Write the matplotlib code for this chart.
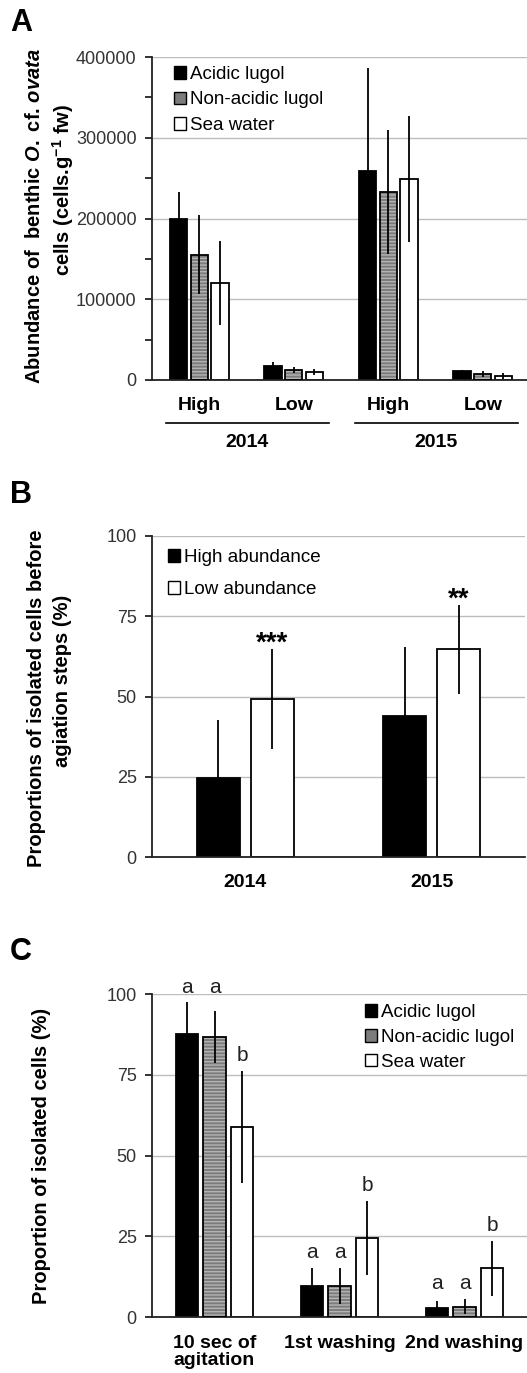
import numpy as np
import matplotlib
matplotlib.use("Agg")
import matplotlib.pyplot as plt
from matplotlib.patches import Patch
from matplotlib.transforms import blended_transform_factory

plt.rcParams['font.family'] = ['Liberation Sans', 'DejaVu Sans']
plt.rcParams['mathtext.fontset'] = 'custom'
plt.rcParams['mathtext.rm'] = 'Liberation Sans:bold'
plt.rcParams['mathtext.it'] = 'Liberation Sans:italic:bold'
plt.rcParams['mathtext.bf'] = 'Liberation Sans:bold'
plt.rcParams['hatch.linewidth'] = 1.0

# ---------------- data ----------------
# Panel A: abundance of benthic cells per fixation treatment
a_categories = ['High', 'Low', 'High', 'Low']
a_years = ['2014', '2015']
a_series = ['Acidic lugol', 'Non-acidic lugol', 'Sea water']
a_acidic = [200000, 17000, 259000, 11000]
a_acidic_err = [33000, 5700, 127000, 1500]
a_nonacidic = [155000, 12400, 233000, 7400]
a_nonacidic_err = [49000, 4100, 77000, 3300]
a_seawater = [120000, 10000, 249000, 5000]
a_seawater_err = [52000, 3600, 78000, 3300]

# Panel B: isolated cells before agitation
b_years = ['2014', '2015']
b_series = ['High abundance', 'Low abundance']
b_high = [24.8, 44.1]
b_high_err = [18.0, 21.5]
b_low = [49.2, 64.7]
b_low_err = [15.6, 13.8]
b_signif = ['***', '**']

# Panel C: isolated cells per step
c_steps = ['10 sec of\nagitation', '1st washing', '2nd washing']
c_series = ['Acidic lugol', 'Non-acidic lugol', 'Sea water']
c_acidic = [87.7, 9.6, 2.7]
c_acidic_err = [9.8, 5.7, 2.4]
c_nonacidic = [86.7, 9.6, 3.2]
c_nonacidic_err = [8.1, 5.5, 2.4]
c_seawater = [58.9, 24.4, 15.1]
c_seawater_err = [17.3, 11.5, 8.5]
c_letters = [['a', 'a', 'b'], ['a', 'a', 'b'], ['a', 'a', 'b']]

# ---------------- styling ----------------
W, H = 527, 1373
DPI = 100
TICK_COLOR = '#333333'
SPINE_COLOR = '#222222'
GRID_COLOR = '#bdbdbd'
GRAY_FACE = '#7c7c7c'
GRAY_STRIPE = '#b4b4b4'
LW = 1.3

fig = plt.figure(figsize=(W / DPI, H / DPI), dpi=DPI)


def px_axes(left, right, top, bottom):
    return fig.add_axes([left / W, 1 - bottom / H, (right - left) / W, (bottom - top) / H])


def style_axes(ax, ymax, major, minor=None, xpad=12):
    ax.set_ylim(0, ymax)
    ax.set_yticks(np.arange(0, ymax + 1, major))
    if minor:
        ax.set_yticks(np.arange(0, ymax + 1, minor), minor=True)
    for s in ['top', 'right']:
        ax.spines[s].set_visible(False)
    for s in ['left', 'bottom']:
        ax.spines[s].set_color(SPINE_COLOR)
        ax.spines[s].set_linewidth(LW)
    ax.yaxis.grid(True, color=GRID_COLOR, linewidth=1.0)
    ax.set_axisbelow(True)
    ax.tick_params(axis='y', which='both', direction='out', length=5, width=LW,
                   color=SPINE_COLOR, labelsize=13, labelcolor=TICK_COLOR, pad=6)
    ax.tick_params(axis='x', length=0, labelsize=14, pad=xpad)
    for lab in ax.get_xticklabels():
        lab.set_fontweight('bold')


def draw_series(ax, x, vals, errs, width, kind):
    if kind == 'black':
        ax.bar(x, vals, width, facecolor='black', edgecolor='black', linewidth=LW, zorder=2)
    elif kind == 'white':
        ax.bar(x, vals, width, facecolor='white', edgecolor='black', linewidth=LW, zorder=2)
    else:
        ax.bar(x, vals, width, facecolor=GRAY_FACE, edgecolor=GRAY_STRIPE, hatch='-----',
               linewidth=0, zorder=2)
        ax.bar(x, vals, width, fill=False, edgecolor='black', linewidth=LW, zorder=3)
    ax.errorbar(x, vals, yerr=errs, fmt='none', ecolor='black', elinewidth=LW,
                capsize=0, zorder=4)


def legend_handles(kinds):
    face = {'black': 'black', 'gray': GRAY_FACE, 'white': 'white'}
    return [Patch(facecolor=face[k], edgecolor='black', linewidth=1.0) for k in kinds]


# ---------------- Panel A ----------------
axA = px_axes(152, 530, 57, 380)
xa = np.arange(len(a_categories))
wA, stepA = 0.185, 0.218
draw_series(axA, xa - stepA, a_acidic, a_acidic_err, wA, 'black')
draw_series(axA, xa, a_nonacidic, a_nonacidic_err, wA, 'gray')
draw_series(axA, xa + stepA, a_seawater, a_seawater_err, wA, 'white')
axA.set_xlim(-0.5, len(a_categories) - 0.5)
axA.set_xticks(xa)
axA.set_xticklabels(a_categories)
style_axes(axA, 400000, 100000, 50000)
axA.legend(legend_handles(['black', 'gray', 'white']), a_series, loc='upper left',
           bbox_to_anchor=(0.058, 0.972), frameon=False, fontsize=13.5,
           handlelength=0.65, handleheight=0.65, handletextpad=0.2,
           labelspacing=0.45, borderaxespad=0, borderpad=0)
trA = blended_transform_factory(axA.transData, axA.transAxes)
for i, year in enumerate(a_years):
    c = 2 * i + 0.5
    axA.plot([c - 0.85, c + 0.87], [-0.133, -0.133], color='black', lw=1.2,
             transform=trA, clip_on=False)
    axA.text(c, -0.195, year, transform=trA, ha='center', va='center',
             fontsize=14, fontweight='bold')

# ---------------- Panel B ----------------
axB = px_axes(152, 525, 536, 857.3)
xb = np.arange(len(b_years))
wB, stepB = 0.23, 0.144
draw_series(axB, xb - stepB, b_high, b_high_err, wB, 'black')
draw_series(axB, xb + stepB, b_low, b_low_err, wB, 'white')
axB.set_xlim(-0.5, len(b_years) - 0.5)
axB.set_xticks(xb)
axB.set_xticklabels(b_years)
style_axes(axB, 100, 25)
axB.legend(legend_handles(['black', 'white']), b_series, loc='upper left',
           bbox_to_anchor=(0.043, 0.96), frameon=False, fontsize=13.5,
           handlelength=0.65, handleheight=0.65, handletextpad=0.2,
           labelspacing=0.82, borderaxespad=0, borderpad=0)
for xi, v, e, s in zip(xb + stepB, b_low, b_low_err, b_signif):
    axB.annotate(s, (xi, v + e), xytext=(0, 4), textcoords='offset points',
                 ha='center', va='center', fontsize=20, fontweight='bold')

# ---------------- Panel C ----------------
axC = px_axes(152, 527, 994.3, 1317)
xc = np.arange(len(c_steps))
wC, stepC = 0.18, 0.22
series_c = [(c_acidic, c_acidic_err, 'black'),
            (c_nonacidic, c_nonacidic_err, 'gray'),
            (c_seawater, c_seawater_err, 'white')]
for j, (vals, errs, kind) in enumerate(series_c):
    draw_series(axC, xc + (j - 1) * stepC, vals, errs, wC, kind)
axC.set_xlim(-0.5, len(c_steps) - 0.5)
axC.set_xticks(xc)
axC.set_xticklabels(c_steps, linespacing=1.0)
style_axes(axC, 100, 25, xpad=13)
axC.legend(legend_handles(['black', 'gray', 'white']), c_series, loc='upper left',
           bbox_to_anchor=(0.568, 0.97), frameon=False, fontsize=13.5,
           handlelength=0.65, handleheight=0.65, handletextpad=0.2,
           labelspacing=0.42, borderaxespad=0, borderpad=0)
# significance letters: same letters in a group share the highest error bar
for i in range(len(c_steps)):
    tops = [s[0][i] + s[1][i] for s in series_c]
    for j, letter in enumerate(c_letters[i]):
        same = [tops[k] for k in range(3) if c_letters[i][k] == letter]
        axC.annotate(letter, (xc[i] + (j - 1) * stepC, max(same)), xytext=(0, 11),
                     textcoords='offset points', ha='center', va='center',
                     fontsize=15, color='#222222')

# ---------------- axis titles and panel letters ----------------
def ylab(x, y, s):
    fig.text(x / W, 1 - y / H, s, rotation=90, ha='center', va='center',
             fontsize=14.5, fontweight='bold')

ylab(35, 216, r'Abundance of  benthic $\mathit{O.}$ cf. $\mathit{ovata}$')
ylab(63, 190, r'cells (cells.g$^{-1}$ fw)')
ylab(37, 698, 'Proportions of isolated cells before')
ylab(63, 681, 'agiation steps (%)')
ylab(42, 1156, 'Proportion of isolated cells (%)')

for letter, y in [('A', 23), ('B', 495), ('C', 952)]:
    fig.text(10 / W, 1 - y / H, letter, ha='left', va='center', fontsize=22,
             fontweight='bold')

fig.savefig('out.png', dpi=DPI)
